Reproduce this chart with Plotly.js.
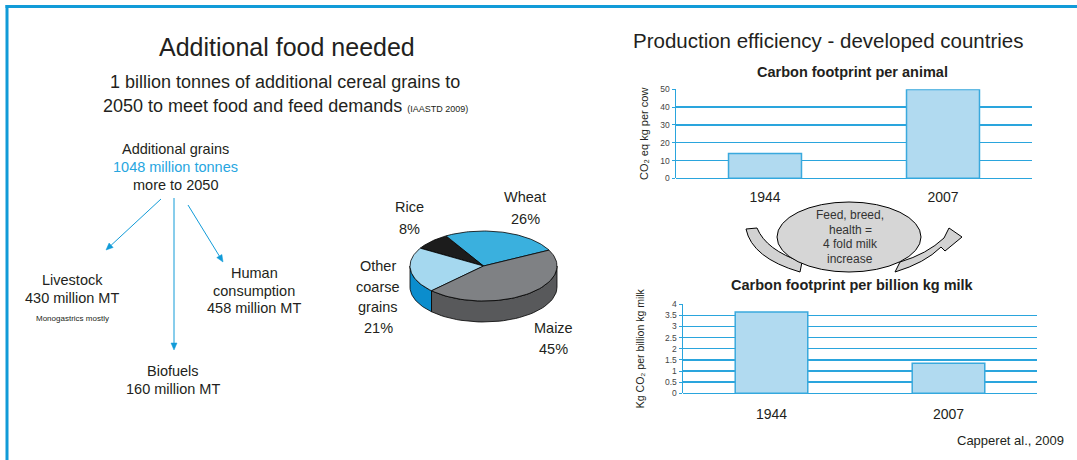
<!DOCTYPE html>
<html><head><meta charset="utf-8">
<script src="https://cdn.plot.ly/plotly-3.0.1.min.js"></script>
<style>html,body{margin:0;padding:0;background:#fff}#chart{width:1077px;height:460px}</style>
</head><body><div id="chart"></div>
<script>
// ---- data ----
const pieLabels = ['Wheat', 'Rice', 'Other coarse grains', 'Maize'];
const pieShares = [26, 8, 21, 45];
const pieTopColors = ['#3ab0de', '#1c1c1c', '#a5d8ef', '#7f8184'];
const pieSideColors = ['#1f8fc4', '#111111', '#0b8dcd', '#58595b'];
const grainTotal = 1048;
const flowLabels = ['Livestock', 'Human consumption', 'Biofuels'];
const flowValues = [430, 458, 160];
const years = ['1944', '2007'];
const co2PerCow = [14, 50];
const co2PerMilk = [3.65, 1.35];

// ---- style ----
const W = 1077, H = 460;
const BLUE = '#119bd8', GRID = '#2aa5dd', TXT = '#231f20';
const FONT = 'Liberation Sans, Arial, sans-serif';
const Y = py => 1 - py / H;
const XP = px => px / W;

const annotations = [];
const shapes = [];
function txt(x, y, text, size, opts) {
  annotations.push(Object.assign({
    x: x, y: y, xref: 'x3', yref: 'y3', text: text, showarrow: false,
    xanchor: 'center', yanchor: 'middle',
    font: {family: FONT, size: size, color: TXT}
  }, opts || {}));
}
function lines(x, y0, arr, size, gap, opts) {
  arr.forEach((t, i) => txt(x, y0 + i * gap, t, size, opts));
}
function arrow(x0, y0, x1, y1) {
  const dx = x1 - x0, dy = y1 - y0, L = Math.hypot(dx, dy);
  const ux = dx / L, uy = dy / L, hl = 7, hw = 3;
  const bx = x1 - ux * hl, by = y1 - uy * hl;
  shapes.push({type: 'line', xref: 'x3', yref: 'y3', x0: x0, y0: y0, x1: bx, y1: by,
    line: {color: BLUE, width: 1}});
  shapes.push({type: 'path', xref: 'x3', yref: 'y3',
    path: `M ${x1},${y1} L ${bx - uy * hw},${by + ux * hw} L ${bx + uy * hw},${by - ux * hw} Z`,
    fillcolor: BLUE, line: {color: BLUE, width: 0.5}});
}

// ---- left panel text ----
txt(287, 47, 'Additional food needed', 25);
txt(285, 82, '1 billion tonnes of additional cereal grains to', 18);
txt(285, 106, '2050 to meet food and feed demands <span style="font-size:9px">(IAASTD 2009)</span>', 18);
txt(175, 149, 'Additional grains', 14.5);
txt(175, 167, grainTotal + ' million tonnes', 14.5, {font: {family: FONT, size: 14.5, color: '#27a6df'}});
txt(175, 185, 'more to 2050', 14.5);

arrow(161, 199, 106, 250);
arrow(174, 198, 174, 350);
arrow(188, 205, 223, 262);

lines(72, 280, [flowLabels[0], flowValues[0] + ' million MT'], 14.5, 18);
txt(72, 318, 'Monogastrics mostly', 8);
lines(254, 273, ['Human', 'consumption', flowValues[1] + ' million MT'], 14.5, 17.7);
lines(173, 371, [flowLabels[2], flowValues[2] + ' million MT'], 14.5, 17.5);

// ---- 3D pie drawn from shares ----
const cx = 483.5, cy = 266, rx = 73.5, ry = 35, depth = 21, startAng = 27;
const sideTraces = [], topTraces = [];
let a0 = startAng;
const rad = d => d * Math.PI / 180;
pieShares.forEach((s, i) => {
  const a1 = a0 + s * 3.6;
  const xs = [cx], ys = [cy];
  for (let k = 0; k <= 60; k++) {
    const t = rad(a0 + (a1 - a0) * k / 60);
    xs.push(cx + rx * Math.cos(t)); ys.push(cy - ry * Math.sin(t));
  }
  xs.push(cx); ys.push(cy);
  topTraces.push({type: 'scatter', mode: 'lines', x: xs, y: ys, fill: 'toself',
    fillcolor: pieTopColors[i], line: {color: '#000', width: 0.8}, xaxis: 'x3', yaxis: 'y3',
    name: pieLabels[i] + ' ' + s + '%', hoverinfo: 'name', showlegend: false});
  [[180, 360], [540, 720]].forEach(([lo, hi]) => {
    const b0 = Math.max(a0, lo), b1 = Math.min(a1, hi);
    if (b1 > b0) {
      const sx = [], sy = [];
      for (let k = 0; k <= 40; k++) {
        const t = rad(b0 + (b1 - b0) * k / 40);
        sx.push(cx + rx * Math.cos(t)); sy.push(cy - ry * Math.sin(t));
      }
      for (let k = 40; k >= 0; k--) {
        const t = rad(b0 + (b1 - b0) * k / 40);
        sx.push(cx + rx * Math.cos(t)); sy.push(cy - ry * Math.sin(t) + depth);
      }
      sx.push(sx[0]); sy.push(sy[0]);
      sideTraces.push({type: 'scatter', mode: 'lines', x: sx, y: sy, fill: 'toself',
        fillcolor: pieSideColors[i], line: {color: '#000', width: 0.8}, xaxis: 'x3', yaxis: 'y3',
        hoverinfo: 'skip', showlegend: false});
    }
  });
  a0 = a1;
});

lines(525, 197, [pieLabels[0], pieShares[0] + '%'], 14.5, 22);
lines(409, 207, [pieLabels[1], pieShares[1] + '%'], 14.5, 22);
lines(378, 266, pieLabels[2].split(' ').concat([pieShares[2] + '%']), 14.5, 20.7);
lines(553, 328, [pieLabels[3], pieShares[3] + '%'], 14.5, 21);

// ---- frame and right panel decorations ----
shapes.push(
  {type: 'line', xref: 'x3', yref: 'y3', x0: 5.5, x1: W, y0: 6.5, y1: 6.5, line: {color: BLUE, width: 3}},
  {type: 'line', xref: 'x3', yref: 'y3', x0: 7, x1: 7, y0: 5, y1: H, line: {color: BLUE, width: 3}},
  {type: 'path', xref: 'x3', yref: 'y3', path: 'M 746,229 Q 752,258 800,272 L 802,262 Q 766,250 757,228 Z',
    fillcolor: '#d2d2d2', line: {color: '#000', width: 1}},
  {type: 'path', xref: 'x3', yref: 'y3',
    path: 'M 895,272 Q 925,263 941,247 L 945,251 L 962,237 L 949,228 L 944,238 Q 927,254 900,262 Z',
    fillcolor: '#d2d2d2', line: {color: '#000', width: 1}},
  {type: 'circle', xref: 'x3', yref: 'y3', x0: 777, x1: 921, y0: 202, y1: 272,
    fillcolor: '#d6d6d6', line: {color: '#000', width: 1}}
);

// ---- right panel text ----
txt(828, 40, 'Production efficiency - developed countries', 20.5);
txt(852, 72, 'Carbon footprint per animal', 14.5, {font: {family: FONT, size: 14.5, color: TXT, weight: 'bold'}});
txt(852, 285, 'Carbon footprint per billion kg milk', 14.5, {font: {family: FONT, size: 14.5, color: TXT, weight: 'bold'}});
lines(850, 215, ['Feed, breed,', 'health =', '4 fold milk', 'increase'], 12, 14.7, {font: {family: FONT, size: 12, color: '#333'}});
txt(1066, 440, 'Capperet al., 2009', 13, {xanchor: 'right'});

// ---- bar traces ----
const barMarker = {color: '#b1daf0', line: {color: '#3aa9dd', width: 1.5}};
const bar1 = {type: 'bar', x: years, y: co2PerCow, xaxis: 'x', yaxis: 'y', marker: barMarker,
  hoverinfo: 'x+y', showlegend: false};
const bar2 = {type: 'bar', x: years, y: co2PerMilk, xaxis: 'x2', yaxis: 'y2', marker: barMarker,
  hoverinfo: 'x+y', showlegend: false};

function yax(dom, range, dtick, title, tsize, standoff) {
  return {domain: dom, range: range, dtick: dtick, showgrid: true, gridcolor: GRID, gridwidth: 1.5,
    zeroline: true, zerolinecolor: GRID, zerolinewidth: 1.5, showline: true, linecolor: GRID, linewidth: 1.5,
    ticks: 'outside', ticklen: 3, tickcolor: GRID, tickfont: {family: FONT, size: 8.5, color: '#444'},
    title: {text: title, font: {family: FONT, size: tsize, color: TXT}, standoff: standoff}, fixedrange: true};
}
function xax(dom, anchor, standoff) {
  return {domain: dom, anchor: anchor, type: 'category', showline: false, showgrid: false, ticks: '',
    tickfont: {family: FONT, size: 14, color: TXT}, ticklabelstandoff: standoff, fixedrange: true};
}

const layout = {
  width: W, height: H, autosize: false, margin: {l: 0, r: 0, t: 0, b: 0, pad: 0},
  paper_bgcolor: '#fff', plot_bgcolor: 'rgba(0,0,0,0)', showlegend: false,
  font: {family: FONT, color: TXT},
  bargap: 0.59,
  xaxis: xax([XP(676), XP(1032)], 'y', 9),
  yaxis: Object.assign(yax([Y(178.3), Y(89.3)], [0, 50.05], 10, 'CO₂ eq kg per cow', 11, 9), {anchor: 'x'}),
  xaxis2: xax([XP(683), XP(1037)], 'y2', 11),
  yaxis2: Object.assign(yax([Y(393.3), Y(304)], [0, 4.005], 0.5, 'Kg CO₂ per billion kg milk', 10.5, 18), {anchor: 'x2'}),
  xaxis3: {domain: [0, 1], range: [0, W], visible: false, anchor: 'y3', fixedrange: true},
  yaxis3: {domain: [0, 1], range: [H, 0], visible: false, anchor: 'x3', fixedrange: true},
  annotations: annotations,
  shapes: shapes
};

Plotly.newPlot('chart', [bar1, bar2].concat(sideTraces, topTraces), layout, {displayModeBar: false, staticPlot: true});
</script>
</body></html>
